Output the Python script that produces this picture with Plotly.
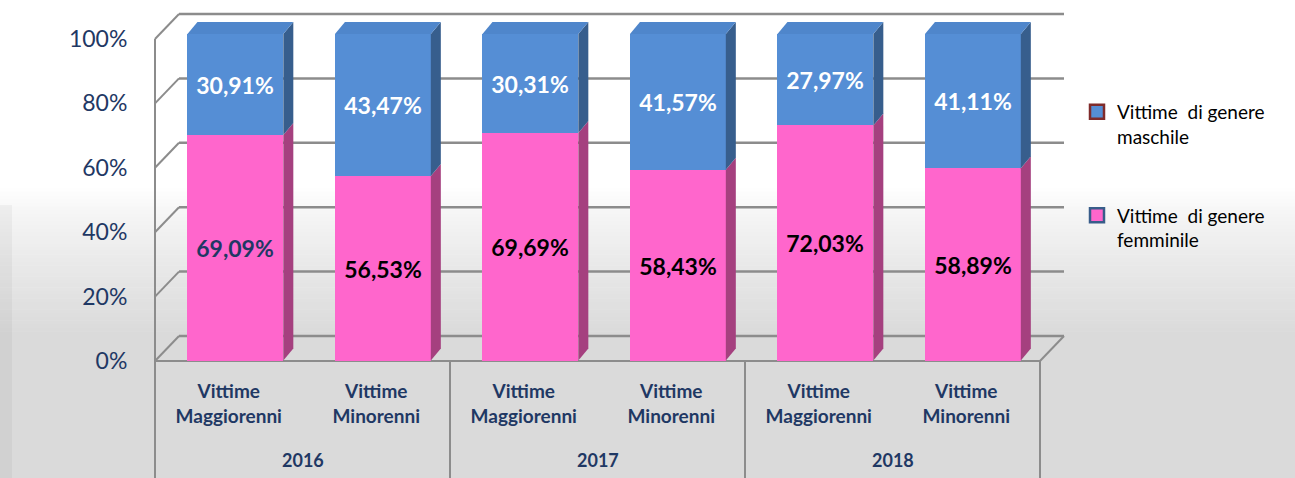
import plotly.graph_objects as go

# ---- data -------------------------------------------------------------
years = ["2016", "2017", "2018"]
groups = ["Vittime<br>Maggiorenni", "Vittime<br>Minorenni"]
femminile = [69.09, 56.53, 69.69, 58.43, 72.03, 58.89]
maschile = [30.91, 43.47, 30.31, 41.57, 27.97, 41.11]
y_ticks = [0, 20, 40, 60, 80, 100]
legend_names = ["Vittime\u00a0 di genere<br>maschile", "Vittime\u00a0 di genere<br>femminile"]

# ---- geometry ---------------------------------------------------------
W, H = 1295, 478
ML, MT, MB = 155, 7, 111
PW = 918
PH = H - MT - MB
MR = W - ML - PW
X_UNIT = 147.5          # pixels per category slot
Y_UNIT = 3.22           # pixels per percentage point (wall / axis)
X_RANGE = [-0.5, -0.5 + PW / X_UNIT]
Y_MIN = -6 / Y_UNIT
Y_RANGE = [Y_MIN, Y_MIN + PH / Y_UNIT]

# bars stand at mid depth, so they use their own (perspective) scale
B_UNIT = 3.264
B_MIN = -6.5 / B_UNIT
B_RANGE = [B_MIN, B_MIN + PH / B_UNIT]

WALL_DX = 24 / X_UNIT   # depth of the floor / side wall
WALL_DY = 25 / Y_UNIT
BAR_DX = 10 / X_UNIT    # depth of each bar
BAR_DY = 12 / B_UNIT
BAR_W = 0.65
BAR_OFF = -0.28

PINK, PINK_SIDE = "#FF66CC", "#A5407F"
BLUE, BLUE_SIDE, BLUE_TOP = "#558ED5", "#375E8D", "#4F86CB"
NAVY = "#1F3864"
GRID = "#8C8C8C"
FONT = "Lato"

x_pos = list(range(len(femminile)))
tick_text = [g for _ in years for g in groups]


def xp(v):
    return (v - X_RANGE[0]) / (X_RANGE[1] - X_RANGE[0])


def yp(v):
    return (v - Y_RANGE[0]) / (Y_RANGE[1] - Y_RANGE[0])


def ypx(p):
    return (H - MB - p) / PH


def xpx(p):
    return (p - ML) / PW


fig = go.Figure()

fig.add_trace(go.Bar(
    x=x_pos, y=femminile, width=BAR_W, offset=BAR_OFF, yaxis="y2",
    marker=dict(color=PINK, line=dict(width=0)),
    texttemplate="%{y:.2f}%", textposition="inside", insidetextanchor="middle",
    textfont=dict(family=FONT, size=23, weight=700,
                  color=[NAVY] + ["#000000"] * (len(femminile) - 1)),
    showlegend=False, hoverinfo="skip",
))
fig.add_trace(go.Bar(
    x=x_pos, y=maschile, width=BAR_W, offset=BAR_OFF, yaxis="y2",
    marker=dict(color=BLUE, line=dict(width=0)),
    texttemplate="%{y:.2f}%", textposition="inside", insidetextanchor="middle",
    textfont=dict(family=FONT, size=23, weight=700, color="#FFFFFF"),
    showlegend=False, hoverinfo="skip",
))

# legend entries
fig.add_trace(go.Scatter(
    x=[None], y=[None], mode="markers", name=legend_names[0], legendgroup="m",
    marker=dict(symbol="square", size=14, color=BLUE, line=dict(color="#7F2B2B", width=2.5)),
))
fig.add_trace(go.Scatter(
    x=[None], y=[None], mode="markers", name=legend_names[1], legendgroup="f",
    marker=dict(symbol="square", size=14, color=PINK, line=dict(color="#385D8A", width=2.5)),
))

shapes = []

# background: white top fading into light grey
top_p, bot_p, steps = 188, 335, 40
for k in range(steps):
    t = (k + 0.5) / steps
    c = round(255 - (255 - 218) * (t ** 0.8))
    p0 = top_p + (bot_p - top_p) * k / steps
    p1 = top_p + (bot_p - top_p) * (k + 1) / steps + 0.5
    shapes.append(dict(type="rect", xref="paper", yref="paper", layer="below",
                       x0=xpx(0), x1=xpx(W), y0=ypx(p1), y1=ypx(p0),
                       fillcolor=f"rgb({c},{c},{c})", line=dict(width=0)))
shapes.append(dict(type="rect", xref="paper", yref="paper", layer="below",
                   x0=xpx(0), x1=xpx(W), y0=ypx(H), y1=ypx(bot_p),
                   fillcolor="rgb(218,218,218)", line=dict(width=0)))
shapes.append(dict(type="rect", xref="paper", yref="paper", layer="below",
                   x0=xpx(0), x1=xpx(12), y0=ypx(H), y1=ypx(205),
                   fillcolor="rgba(0,0,0,0.04)", line=dict(width=0)))

# back wall gridlines and side wall diagonals
for t in y_ticks:
    shapes.append(dict(type="line", xref="paper", yref="paper", layer="below",
                       x0=xp(-0.5 + WALL_DX), x1=xp(5.5 + WALL_DX),
                       y0=yp(t + WALL_DY), y1=yp(t + WALL_DY),
                       line=dict(color=GRID, width=2.5)))
    shapes.append(dict(type="line", xref="paper", yref="paper", layer="below",
                       x0=xp(-0.5), x1=xp(-0.5 + WALL_DX),
                       y0=yp(t), y1=yp(t + WALL_DY),
                       line=dict(color=GRID, width=2)))

# floor front edge and right floor edge
shapes.append(dict(type="line", xref="paper", yref="paper", layer="below",
                   x0=xp(-0.5), x1=xp(5.5), y0=yp(0), y1=yp(0),
                   line=dict(color=GRID, width=2)))
shapes.append(dict(type="line", xref="paper", yref="paper", layer="below",
                   x0=xp(5.5), x1=xp(5.5 + WALL_DX), y0=yp(0), y1=yp(WALL_DY),
                   line=dict(color=GRID, width=2)))

# category table lines
shapes.append(dict(type="line", xref="paper", yref="paper", layer="below",
                   x0=xp(-0.5), x1=xp(-0.5), y0=yp(100), y1=ypx(H),
                   line=dict(color=GRID, width=2)))
for b in (1.5, 3.5, 5.5):
    shapes.append(dict(type="line", xref="paper", yref="paper", layer="below",
                       x0=xp(b), x1=xp(b), y0=yp(0), y1=ypx(H),
                       line=dict(color=GRID, width=2)))

# bar depth: side faces and top faces
for i, (f, m) in enumerate(zip(femminile, maschile)):
    xl = x_pos[i] + BAR_OFF
    xr = xl + BAR_W
    for y0, y1, col in ((0, f, PINK_SIDE), (f, f + m, BLUE_SIDE)):
        shapes.append(dict(
            type="path", xref="x", yref="y2", layer="above",
            path=(f"M {xr},{y0} L {xr + BAR_DX},{y0 + BAR_DY} "
                  f"L {xr + BAR_DX},{y1 + BAR_DY} L {xr},{y1} Z"),
            fillcolor=col, line=dict(width=0)))
    top = f + m
    shapes.append(dict(
        type="path", xref="x", yref="y2", layer="above",
        path=(f"M {xl},{top} L {xr},{top} L {xr + BAR_DX},{top + BAR_DY} "
              f"L {xl + BAR_DX},{top + BAR_DY} Z"),
        fillcolor=BLUE_TOP, line=dict(width=0)))

annotations = []
for j, yr in enumerate(years):
    annotations.append(dict(
        x=2 * j + 0.5, xref="x", y=ypx(460), yref="paper", text=yr,
        showarrow=False, xanchor="center", yanchor="middle",
        font=dict(family=FONT, size=18, color=NAVY, weight=700)))

fig.update_layout(
    width=W, height=H,
    margin=dict(l=ML, r=MR, t=MT, b=MB, pad=0),
    paper_bgcolor="#FFFFFF", plot_bgcolor="rgba(0,0,0,0)",
    barmode="stack", bargap=0,
    separators=",.",
    shapes=shapes, annotations=annotations,
    xaxis=dict(range=X_RANGE, tickvals=x_pos, ticktext=tick_text,
               showgrid=False, zeroline=False, showline=False,
               ticks="outside", ticklen=7, tickcolor="rgba(0,0,0,0)",
               tickfont=dict(family=FONT, size=19, color=NAVY, weight=700)),
    yaxis=dict(range=Y_RANGE, tickvals=y_ticks, ticktext=[f"{t}%" for t in y_ticks],
               showgrid=False, zeroline=False, showline=False,
               ticks="outside", ticklen=22, tickcolor="rgba(0,0,0,0)",
               tickfont=dict(family=FONT, size=23, color=NAVY)),
    yaxis2=dict(range=B_RANGE, overlaying="y", visible=False),
    legend=dict(x=xpx(1077), y=ypx(93), xanchor="left", yanchor="top",
                bgcolor="rgba(0,0,0,0)", traceorder="grouped", tracegroupgap=51,
                valign="top", font=dict(family=FONT, size=19, color="#000000")),
    hovermode=False,
)

fig.write_html("out.html")
